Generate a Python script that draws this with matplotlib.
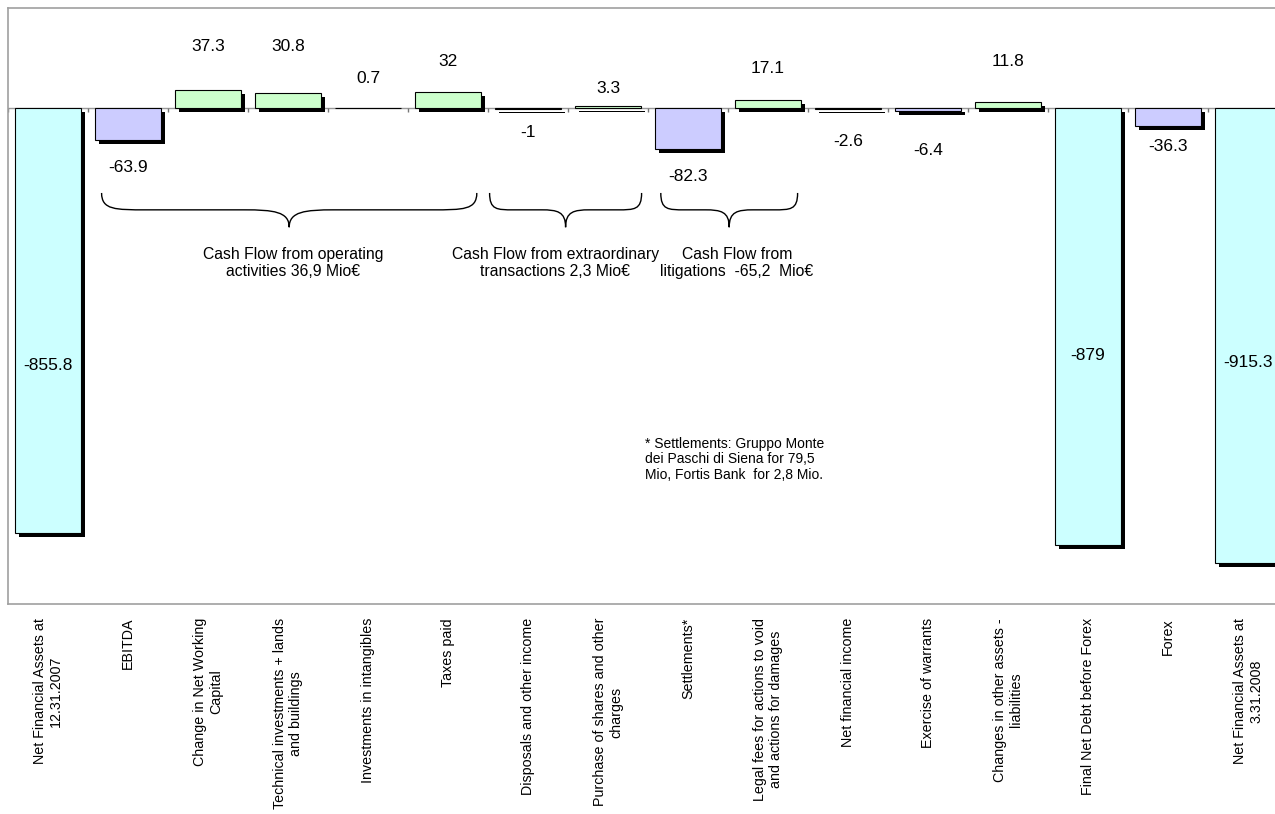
import numpy as np
import matplotlib
matplotlib.use('Agg')
import matplotlib.pyplot as plt
import matplotlib.patheffects as pe
from matplotlib.path import Path
from matplotlib.patches import PathPatch

plt.rcParams['font.family'] = ['Liberation Sans', 'DejaVu Sans']

# Voci del rendiconto finanziario (Mio€)
categories = [
    'Net Financial Assets at\n12.31.2007',
    'EBITDA',
    'Change in Net Working\nCapital',
    'Technical investments + lands\nand buildings',
    'Investments in intangibles',
    'Taxes paid',
    'Disposals and other income',
    'Purchase of shares and other\ncharges',
    'Settlements*',
    'Legal fees for actions to void\nand actions for damages',
    'Net financial income',
    'Exercise of warrants',
    'Changes in other assets -\nliabilities',
    'Final Net Debt before Forex',
    'Forex',
    'Net Financial Assets at\n3.31.2008',
]
values = [-855.8, -63.9, 37.3, 30.8, 0.7, 32, -1, 3.3, -82.3, 17.1,
          -2.6, -6.4, 11.8, -879, -36.3, -915.3]
totals = [0, 13, 15]

# posizione verticale delle etichette dei valori
label_pos = [-519, -119, 123, 123, 60, 93, -50, 40, -137, 80,
             -67, -85, 93, -499, -77, -513]

# gruppi di voci con parentesi graffa: (da, a, testo)
groups = [
    (0.67, 5.36, 'Cash Flow from operating\nactivities 36,9 Mio€'),
    (5.52, 7.42, 'Cash Flow from extraordinary\ntransactions 2,3 Mio€'),
    (7.66, 9.37, 'Cash Flow from\nlitigations  -65,2  Mio€'),
]
group_text_x = [3.06, 6.34, 8.61]

footnote = ('* Settlements: Gruppo Monte\ndei Paschi di Siena for 79,5\n'
            'Mio, Fortis Bank  for 2,8 Mio.')

C_TOTAL = '#CCFFFF'
C_NEG = '#CCCCFF'
C_POS = '#CCFFCC'

fig = plt.figure(figsize=(12.75, 8.14), dpi=100)
ax = fig.add_axes([8 / 1275, 210 / 814, 1280 / 1275, 596 / 814])

x = np.arange(len(values))
colors = []
for i, v in enumerate(values):
    if i in totals:
        colors.append(C_TOTAL)
    elif v < 0:
        colors.append(C_NEG)
    else:
        colors.append(C_POS)

bars = ax.bar(x, values, width=0.825, color=colors, edgecolor='black',
              linewidth=0.8, zorder=3)
for b in bars:
    b.set_path_effects([pe.SimplePatchShadow(offset=(3, -3), shadow_rgbFace='black',
                                             alpha=1.0), pe.Normal()])

# linea dello zero con tacche tra le categorie
ax.axhline(0, color='#999999', lw=1, zorder=2)
ax.vlines(np.arange(len(values) + 1) - 0.5, 0, -7, color='#777777', lw=1, zorder=2)

for i, v in enumerate(values):
    ax.text(x[i], label_pos[i], f'{v:g}', ha='center', va='center',
            fontsize=12.5, zorder=5)


def brace(x0, x1, ytop=-171, ymid=-205, ybot=-240):
    xm = (x0 + x1) / 2
    c = max(0.3, 0.12 * (x1 - x0))
    verts = [
        (x0, ytop), (x0, ymid), (x0 + c * 0.3, ymid), (x0 + c, ymid),
        (xm - c, ymid),
        (xm - c * 0.35, ymid), (xm, ymid - (ybot - ymid) * -0.1), (xm, ybot),
        (xm, ymid - (ybot - ymid) * -0.1), (xm + c * 0.35, ymid), (xm + c, ymid),
        (x1 - c, ymid),
        (x1 - c * 0.3, ymid), (x1, ymid), (x1, ytop),
    ]
    codes = [Path.MOVETO, Path.CURVE4, Path.CURVE4, Path.CURVE4,
             Path.LINETO,
             Path.CURVE4, Path.CURVE4, Path.CURVE4,
             Path.CURVE4, Path.CURVE4, Path.CURVE4,
             Path.LINETO,
             Path.CURVE4, Path.CURVE4, Path.CURVE4]
    ax.add_patch(PathPatch(Path(verts, codes), facecolor='none',
                           edgecolor='black', lw=1, zorder=4))


for (x0, x1, txt), tx in zip(groups, group_text_x):
    brace(x0, x1)
    ax.text(tx, -312, txt, ha='center', va='center', fontsize=11.3,
            multialignment='center', linespacing=1.15)

ax.text(7.46, -707, footnote, ha='left', va='center', fontsize=10,
        linespacing=1.15)

ax.set_xlim(-0.5, len(values) - 0.5)
ax.set_ylim(-998.6, 201.4)
ax.set_yticks([])
ax.set_xticks(x)
ax.set_xticklabels(categories, rotation=90, fontsize=10.3, va='top', ha='center',
                   multialignment='center')
ax.tick_params(axis='x', length=0, pad=10)
for s in ax.spines.values():
    s.set_color('#a0a0a0')
    s.set_linewidth(1.2)

fig.savefig('out.png', dpi=100)
